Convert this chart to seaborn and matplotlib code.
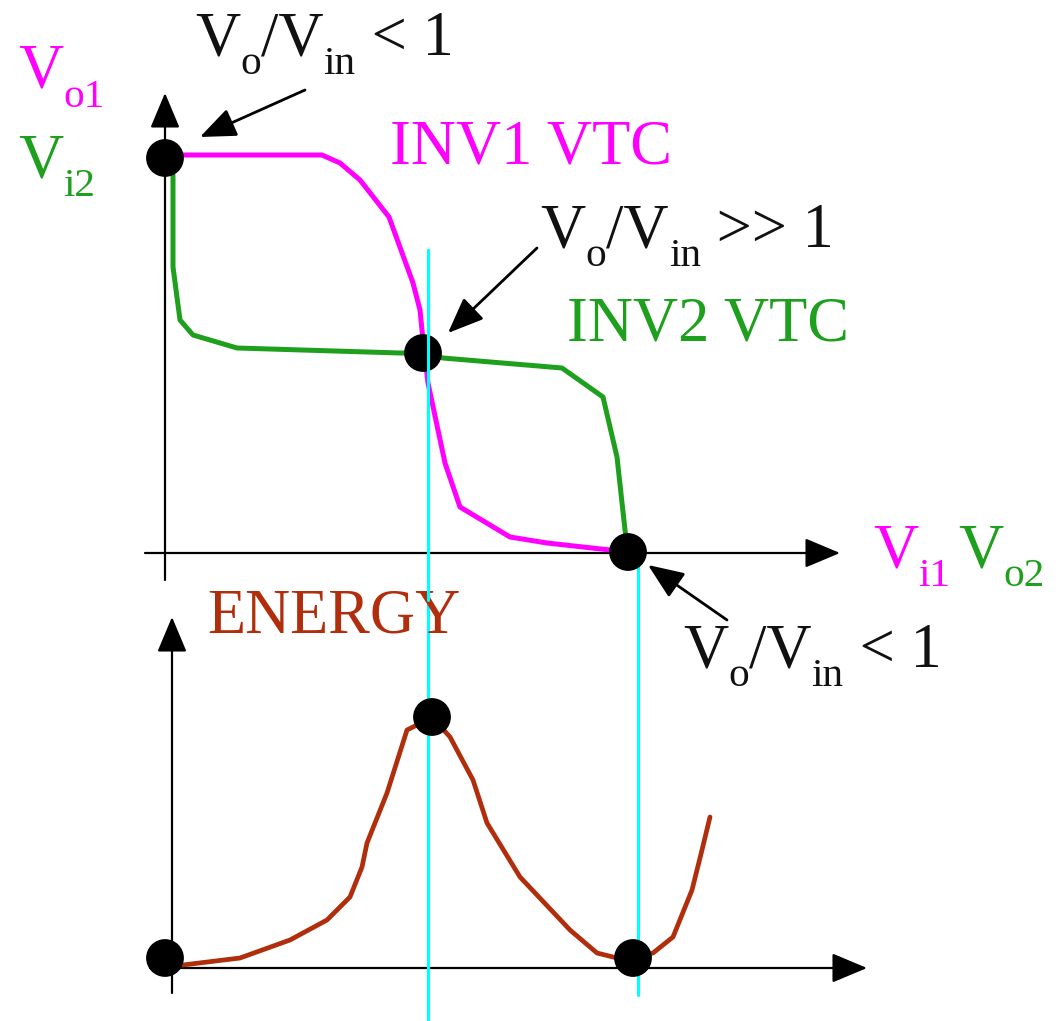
import matplotlib
matplotlib.use("Agg")
import matplotlib.pyplot as plt
import seaborn as sns

# Picture is laid out in pixel units of the 1059x1021 canvas (y grows down)
sns.set_theme(style="white")
plt.rcParams['font.family'] = ['Liberation Serif', 'DejaVu Serif']

PINK = '#ff00ff'
GREEN = '#1ea01e'
BROWN = '#b02e0c'
CYAN = '#00ffff'
INK = '#111111'

# INV1 VTC (Vo1 vs Vi1)
inv1_x = [165, 322, 340, 360, 389, 413, 420, 423, 428, 445, 460, 510, 547, 610, 628]
inv1_y = [155, 155, 163, 180, 217, 283, 310, 340, 383, 463, 507, 537, 543, 550, 552]

# INV2 VTC (Vi2 vs Vo2)
inv2_x = [165, 173, 173, 180, 193, 237, 400, 423, 443, 562, 603, 617, 625, 628]
inv2_y = [158, 175, 267, 320, 335, 348, 353, 353, 358, 368, 397, 457, 530, 552]

# energy curve
energy_x = [165, 183, 240, 290, 327, 350, 362, 367, 387, 407, 417, 432, 450, 473,
            487, 520, 570, 597, 617, 633, 653, 673, 692, 702, 710]
energy_y = [965, 965, 958, 940, 920, 897, 867, 843, 793, 730, 725, 717, 737, 780,
            823, 877, 930, 953, 958, 958, 953, 937, 890, 850, 817]

# operating points
vtc_pts_x = [165, 423, 628]
vtc_pts_y = [158, 353, 552]
energy_pts_x = [165, 432, 633]
energy_pts_y = [958, 717, 958]

# cyan guides: x, top, bottom
guide_x = [428, 638]
guide_top = [250, 562]
guide_bottom = [1020, 995]

fig = plt.figure(figsize=(10.59, 10.21), dpi=100)
ax = fig.add_axes([0, 0, 1, 1])
ax.set_xlim(0, 1059)
ax.set_ylim(1021, 0)
ax.axis('off')
renderer = fig.canvas.get_renderer()


def axis_arrow(x0, y0, x1, y1):
    ax.annotate('', xy=(x1, y1), xytext=(x0, y0),
                arrowprops=dict(arrowstyle='-|>,head_length=1.0,head_width=0.42',
                                mutation_scale=22, color='black', lw=1.6,
                                shrinkA=0, shrinkB=0), zorder=2)


def note_arrow(x0, y0, x1, y1):
    ax.annotate('', xy=(x1, y1), xytext=(x0, y0),
                arrowprops=dict(arrowstyle='-|>,head_length=1.1,head_width=0.45',
                                mutation_scale=20, color='black', lw=2,
                                shrinkA=0, shrinkB=0), zorder=6)


def rich_text(x, y, parts, color, size=45):
    # parts: (text, is_subscript); subscripts are smaller and dropped below baseline
    cur = x
    for s, sub in parts:
        fsz = size * 0.66 if sub else size
        yy = y + size * 0.42 if sub else y
        t = ax.text(cur, yy, s, color=color, fontsize=fsz, va='baseline', ha='left')
        cur += t.get_window_extent(renderer).width
    return cur


# axes of both panels
axis_arrow(165, 580, 165, 93)
axis_arrow(145, 553, 840, 553)
axis_arrow(172, 993, 172, 617)
axis_arrow(150, 968, 867, 968)

# cyan guide lines (the left one crosses over the middle VTC point)
for gx, gt, gb in zip(guide_x, guide_top, guide_bottom):
    ax.plot([gx, gx], [gt, gb], color=CYAN, lw=2.2, zorder=3)
ax.plot([guide_x[0], guide_x[0]], [guide_top[0], 600], color=CYAN, lw=2.2, zorder=6)

sns.lineplot(x=inv1_x, y=inv1_y, sort=False, estimator=None, color=PINK, lw=3.6, ax=ax, zorder=4)
sns.lineplot(x=inv2_x, y=inv2_y, sort=False, estimator=None, color=GREEN, lw=3.6, ax=ax, zorder=4)
sns.lineplot(x=energy_x, y=energy_y, sort=False, estimator=None, color=BROWN, lw=3.4, ax=ax, zorder=4)

sns.scatterplot(x=vtc_pts_x + energy_pts_x, y=vtc_pts_y + energy_pts_y, s=740,
                color='black', edgecolor='none', ax=ax, zorder=5)

# axis labels
rich_text(18, 88, [('V', False), ('o1', True)], PINK)
rich_text(18, 177, [('V', False), ('i2', True)], GREEN)
rich_text(873, 567, [('V', False), ('i1', True)], PINK)
rich_text(958, 567, [('V', False), ('o2', True)], GREEN)

# curve names
ax.text(390, 163, 'INV1 VTC', color=PINK, fontsize=45, va='baseline')
ax.text(567, 340, 'INV2 VTC', color=GREEN, fontsize=45, va='baseline')
ax.text(207, 632, 'ENERGY', color=BROWN, fontsize=45, va='baseline')

# gain annotations
rich_text(195, 55, [('V', False), ('o', True), ('/V', False), ('in', True), (' < 1', False)], INK)
rich_text(540, 247, [('V', False), ('o', True), ('/V', False), ('in', True), (' >> 1', False)], INK)
rich_text(683, 667, [('V', False), ('o', True), ('/V', False), ('in', True), (' < 1', False)], INK)
note_arrow(305, 90, 200, 137)
note_arrow(537, 248, 448, 333)
note_arrow(727, 620, 648, 565)

fig.savefig('out.png', dpi=100, facecolor='white')
